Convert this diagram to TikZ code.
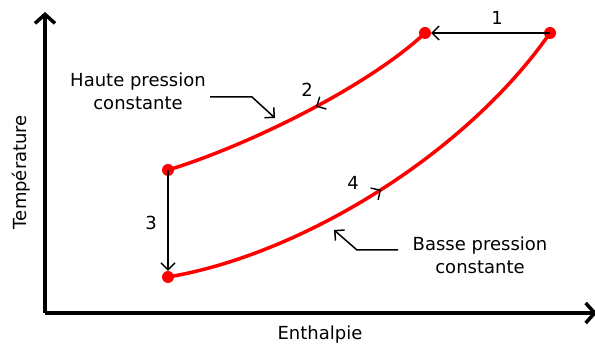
\documentclass[tikz,border=0pt]{standalone}
\usepackage{fontspec}
\setmainfont{DejaVu Sans}
\usetikzlibrary{arrows.meta,decorations.markings}
\tikzset{
  axis/.style={line width=3.5pt,-{Straight Barb[length=9pt,width=20pt,line width=3.5pt]}},
  cycle/.style={red,line width=3.5pt},
  pt/.style={circle,fill=red,inner sep=0pt,minimum size=12pt},
  thin arrow/.style={line width=1.2pt,-{Straight Barb[length=7pt,width=14pt,line width=1.4pt]}},
  callout/.style={line width=1.5pt,-{Straight Barb[length=7pt,width=14pt,line width=1.5pt]}},
  lbl/.style={font=\fontsize{18}{23}\selectfont,inner sep=1pt},
  midarrow/.style={postaction={decorate},decoration={markings,
     mark=at position #1 with {\arrow[black,line width=1.4pt]{Straight Barb[length=7pt,width=14pt]}}}}
}
\begin{document}
\begin{tikzpicture}[x=1pt,y=-1pt]
\useasboundingbox (0,0) rectangle (595,347);
% axes
\coordinate (O) at (45,313);
\coordinate (Ytip) at (45,12);
\coordinate (Xtip) at (597,313);
\draw[axis] (O) -- (Ytip);
\draw[axis] (O) -- (Xtip);
\node[lbl,rotate=90] (ylab) at (21,172) {Température};
\node[lbl] (xlab) at (320,335) {Enthalpie};
% cycle points
\coordinate (A) at (425,33);
\coordinate (B) at (550,33);
\coordinate (C) at (168,170);
\coordinate (D) at (168,277);
\draw[cycle,midarrow=0.45] (A) .. controls (370,85) and (250,145) .. (C);
\draw[cycle,midarrow=0.5] (D) .. controls (300,255) and (465,155) .. (B);
\node[pt] (pA) at (A) {};
\node[pt] (pB) at (B) {};
\node[pt] (pC) at (C) {};
\node[pt] (pD) at (D) {};
\draw[thin arrow] (pB.center) -- (pA.east);
\draw[thin arrow] (pC.center) -- (pD.north);
\node[lbl] (n1) at (497,18) {1};
\node[lbl] (n2) at (307,90) {2};
\node[lbl] (n3) at (151,223) {3};
\node[lbl] (n4) at (353,183) {4};
% callouts
\node[lbl,align=center] (hp) at (138,91) {Haute pression\\constante};
\coordinate (h1) at (210,97);
\coordinate (h2) at (252,97);
\coordinate (h3) at (275,118);
\draw[callout] (h1) -- (h2) -- (h3);
\node[lbl,align=center] (bp) at (480,255) {Basse pression\\constante};
\coordinate (b1) at (398,250);
\coordinate (b2) at (357,250);
\coordinate (b3) at (334,230);
\draw[callout] (b1) -- (b2) -- (b3);
\end{tikzpicture}
\end{document}
